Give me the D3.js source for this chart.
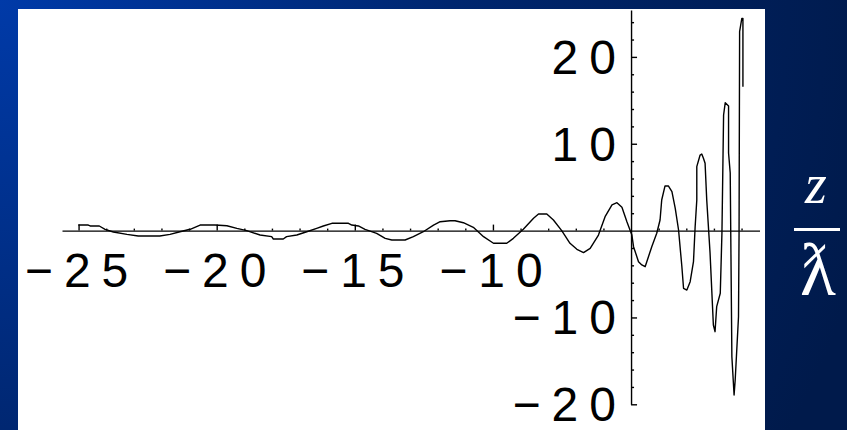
<!DOCTYPE html>
<html>
<head>
<meta charset="utf-8">
<script src="https://cdn.jsdelivr.net/npm/d3@7"></script>
<style>
  html, body { margin: 0; padding: 0; background: #001a4c; }
  svg { display: block; }
</style>
</head>
<body>
<svg id="chart" width="847" height="430"></svg>
<script>
// wave (z / lambda-bar against position)
const waveX = [-25.01, -24.65, -24.58, -24.25, -24.04, -23.74, -23.25, -22.84, -22.06, -21.69,
  -21.33, -20.96, -20.60, -20.06, -19.63, -19.27, -18.91, -18.43, -18.01, -17.95,
  -17.59, -17.47, -17.10, -16.74, -16.38, -16.14, -15.83, -15.23, -15.11, -14.87,
  -14.63, -14.21, -13.90, -13.66, -13.18, -12.88, -12.52, -12.15, -11.91, -11.55,
  -11.37, -11.07, -10.71, -10.34, -9.98, -9.50, -9.26, -8.90, -8.53, -8.35,
  -8.05, -7.81, -7.51, -7.21, -6.96, -6.72, -6.48, -6.18, -5.94, -5.69,
  -5.51, -5.33, -5.15, -4.97, -4.91, -4.73, -4.61, -4.49, -4.37, -4.25,
  -4.07, -3.95, -3.89, -3.77, -3.65, -3.52, -3.40, -3.28, -3.16, -3.10,
  -2.98, -2.86, -2.74, -2.68, -2.62, -2.62, -2.50, -2.44, -2.38, -2.32,
  -2.26, -2.14, -2.02, -1.96, -1.90, -1.77, -1.71, -1.65, -1.59, -1.47,
  -1.47, -1.41, -1.35, -1.27, -1.23, -1.11, -1.09, -1.07, -0.99, -0.95,
  -0.95];
const waveY = [0.64, 0.64, 0.53, 0.53, 0.15, -0.16, -0.43, -0.62, -0.62, -0.43,
  -0.13, 0.15, 0.64, 0.64, 0.56, 0.26, -0.01, -0.51, -0.70, -0.97,
  -0.97, -0.70, -0.51, -0.13, 0.26, 0.53, 0.84, 0.84, 0.64, 0.53,
  0.15, -0.31, -0.89, -1.08, -1.08, -0.70, -0.13, 0.64, 1.02, 1.14,
  1.14, 0.91, 0.38, -0.70, -1.46, -1.46, -0.89, 0.15, 1.42, 1.91,
  1.91, 1.22, -0.01, -1.46, -2.15, -2.53, -2.04, -0.51, 1.60, 2.95,
  3.21, 2.68, 1.02, -0.51, -1.85, -3.58, -3.96, -4.16, -3.01, -1.85,
  -0.31, 1.22, 3.52, 5.14, 5.14, 4.48, 2.57, 0.07, -4.16, -6.64,
  -6.84, -5.88, -3.58, 0.45, 3.52, 7.36, 8.70, 8.82, 8.32, 7.75,
  3.52, -2.58, -10.87, -11.64, -8.76, -7.22, -0.31, 13.31, 14.73, 14.35,
  8.93, 6.63, -14.52, -18.93, -17.20, -9.91, -0.31, 22.90, 24.44, 24.44,
  16.57];

const xMajorTicks = [-25, -20, -15, -10];
const xMinorTicks = d3.range(-24, 0).filter(v => v % 5 !== 0);
const yMajorTicks = [-20, -10, 10, 20];
const yMinorTicks = d3.range(-18, 25, 2).filter(v => v % 10 !== 0);
const xDomain = [-25.6, -0.35];
const yDomain = [-20, 25.4];
const yAxisAt = -5;
const numerator = 'z';
const denominator = 'ƛ';

const svg = d3.select('#chart');
const fontSize = 48;
const spacing = 11;

// background
const defs = svg.append('defs');
const grad = defs.append('radialGradient')
  .attr('id', 'bg')
  .attr('gradientUnits', 'userSpaceOnUse')
  .attr('cx', 0).attr('cy', 0).attr('r', 900);
grad.append('stop').attr('offset', 0).attr('stop-color', '#003aa8');
grad.append('stop').attr('offset', 0.5).attr('stop-color', '#00266f');
grad.append('stop').attr('offset', 1).attr('stop-color', '#001a4b');
svg.append('rect').attr('width', 847).attr('height', 430).attr('fill', 'url(#bg)');
svg.append('rect').attr('x', 18).attr('y', 9).attr('width', 747).attr('height', 421).attr('fill', '#fff');

const x = d3.scaleLinear().domain(xDomain).range([62, 759.5]);
const y = d3.scaleLinear().domain(yDomain).range([404.3, 10]);

// x axis, ticks pointing up
const xAxis = svg.append('g').attr('transform', `translate(0,${y(0)})`);
xAxis.call(d3.axisTop(x).tickValues(xMajorTicks).tickSize(6).tickSizeOuter(0).tickFormat(''));
xAxis.append('g').call(d3.axisTop(x).tickValues(xMinorTicks).tickSize(2).tickSizeOuter(0).tickFormat(''))
  .select('.domain').remove();

// y axis at x = -5, ticks pointing right
const yAxis = svg.append('g').attr('transform', `translate(${x(yAxisAt)},0)`);
yAxis.call(d3.axisRight(y).tickValues(yMajorTicks).tickSize(6).tickSizeOuter(0).tickFormat(''));
yAxis.append('g').call(d3.axisRight(y).tickValues(yMinorTicks).tickSize(3).tickSizeOuter(0).tickFormat(''))
  .select('.domain').remove();

svg.selectAll('.domain, .tick line').attr('stroke', '#000').attr('stroke-width', 1.4);

const fmt = d3.format('d');
svg.append('g').selectAll('text')
  .data(xMajorTicks)
  .join('text')
  .attr('x', d => x(d) + spacing / 2 - 2)
  .attr('y', 287)
  .attr('text-anchor', 'middle')
  .attr('font-family', 'Liberation Sans, Arial, sans-serif')
  .attr('font-size', fontSize)
  .attr('letter-spacing', spacing)
  .attr('fill', '#000')
  .text(fmt);

svg.append('g').selectAll('text')
  .data(yMajorTicks)
  .join('text')
  .attr('x', 627)
  .attr('y', d => y(d) + 17)
  .attr('text-anchor', 'end')
  .attr('font-family', 'Liberation Sans, Arial, sans-serif')
  .attr('font-size', fontSize)
  .attr('letter-spacing', spacing)
  .attr('fill', '#000')
  .text(fmt);

// the curve
const pts = d3.zip(waveX, waveY);
svg.append('path')
  .datum(pts)
  .attr('fill', 'none')
  .attr('stroke', '#000')
  .attr('stroke-width', 1.4)
  .attr('stroke-linejoin', 'round')
  .attr('d', d3.line().x(d => x(d[0])).y(d => y(d[1])));

// side label z / lambda-bar
const lab = svg.append('g').attr('fill', '#fff');
lab.append('text')
  .attr('x', 816).attr('y', 203)
  .attr('text-anchor', 'middle')
  .attr('font-family', 'Liberation Serif, Times New Roman, serif')
  .attr('font-style', 'italic')
  .attr('font-size', 56)
  .text(numerator);
lab.append('rect').attr('x', 794).attr('y', 228).attr('width', 46).attr('height', 3);
lab.append('text')
  .attr('x', 818).attr('y', 295)
  .attr('text-anchor', 'middle')
  .attr('font-family', 'Liberation Serif, DejaVu Serif, serif')
  .attr('font-size', 74)
  .text(denominator);
</script>
</body>
</html>
